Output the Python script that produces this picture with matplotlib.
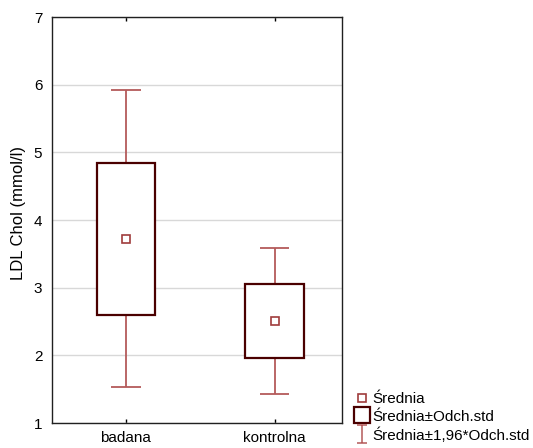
import numpy as np
import matplotlib
matplotlib.use("Agg")
import matplotlib.pyplot as plt
from matplotlib.patches import Rectangle
from matplotlib.lines import Line2D
from matplotlib.path import Path

plt.rcParams["font.family"] = ["Liberation Sans", "DejaVu Sans"]

# data
groups = ["badana", "kontrolna"]
means = [3.72, 2.51]
sds = [1.12, 0.55]
yticks = [1, 2, 3, 4, 5, 6, 7]

box_col = "#4a0000"
whisk_col = "#b45a5a"
mean_col = "#a03c3c"

fig = plt.figure(figsize=(5.33, 4.48), dpi=100)
ax = fig.add_axes([52 / 533, 25 / 448, 290 / 533, 406 / 448])

x = np.arange(len(groups))
box_w = 0.393
cap_w = 0.2
wkw = dict(color=whisk_col, lw=1.3, solid_capstyle="butt", zorder=2)

for xi, m, s in zip(x, means, sds):
    lo2, hi2 = m - 1.96 * s, m + 1.96 * s
    # whiskers (mean +/- 1.96 sd)
    ax.plot([xi, xi], [lo2, m - s], **wkw)
    ax.plot([xi, xi], [m + s, hi2], **wkw)
    ax.plot([xi - cap_w / 2, xi + cap_w / 2], [lo2, lo2], **wkw)
    ax.plot([xi - cap_w / 2, xi + cap_w / 2], [hi2, hi2], **wkw)
    # box (mean +/- sd)
    ax.add_patch(Rectangle((xi - box_w / 2, m - s), box_w, 2 * s,
                           facecolor="white", edgecolor=box_col, lw=1.6, zorder=3))
    # mean
    ax.plot(xi, m, marker="s", ms=6, mfc="white", mec=mean_col, mew=1.2, zorder=4)

ax.set_xlim(-0.496, 1.453)
ax.set_ylim(1, 7)
ax.set_xticks(x)
ax.set_xticklabels(groups, fontsize=11)
ax.set_yticks(yticks)
ax.set_yticklabels([str(t) for t in yticks], fontsize=11)
ax.tick_params(axis="both", direction="in", length=3, width=1, pad=6)
ax.tick_params(axis="x", top=True)
ax.tick_params(axis="y", left=False, pad=7)
ax.yaxis.grid(True, color="#d8d8d8", lw=1)
ax.set_axisbelow(True)
for sp in ax.spines.values():
    sp.set_color("#202020")
    sp.set_linewidth(1)
ax.set_ylabel("LDL Chol (mmol/l)", fontsize=12, va="center")
ax.yaxis.set_label_coords(-0.117, 0.517)

# legend
whisk_marker = Path([(-0.5, -1), (0.5, -1), (0, -1), (0, 1), (-0.5, 1), (0.5, 1)],
                    [Path.MOVETO, Path.LINETO, Path.MOVETO, Path.LINETO,
                     Path.MOVETO, Path.LINETO])
handles = [
    Line2D([], [], ls="none", marker="s", ms=6, mfc="white", mec=mean_col, mew=1.2),
    Line2D([], [], ls="none", marker="s", ms=12, mfc="white", mec=box_col, mew=1.6),
    Line2D([], [], ls="none", marker=whisk_marker, ms=13, mec=whisk_col, mew=1.1),
]
labels = ["Średnia", "Średnia±Odch.std", "Średnia±1,96*Odch.std"]
fig.legend(handles, labels, loc="lower left", bbox_to_anchor=(346 / 533, -0.012),
           frameon=False, fontsize=11, handlelength=0.7, handletextpad=0.35,
           labelspacing=0.22, borderpad=0.2)

fig.savefig("out.png", dpi=100)
